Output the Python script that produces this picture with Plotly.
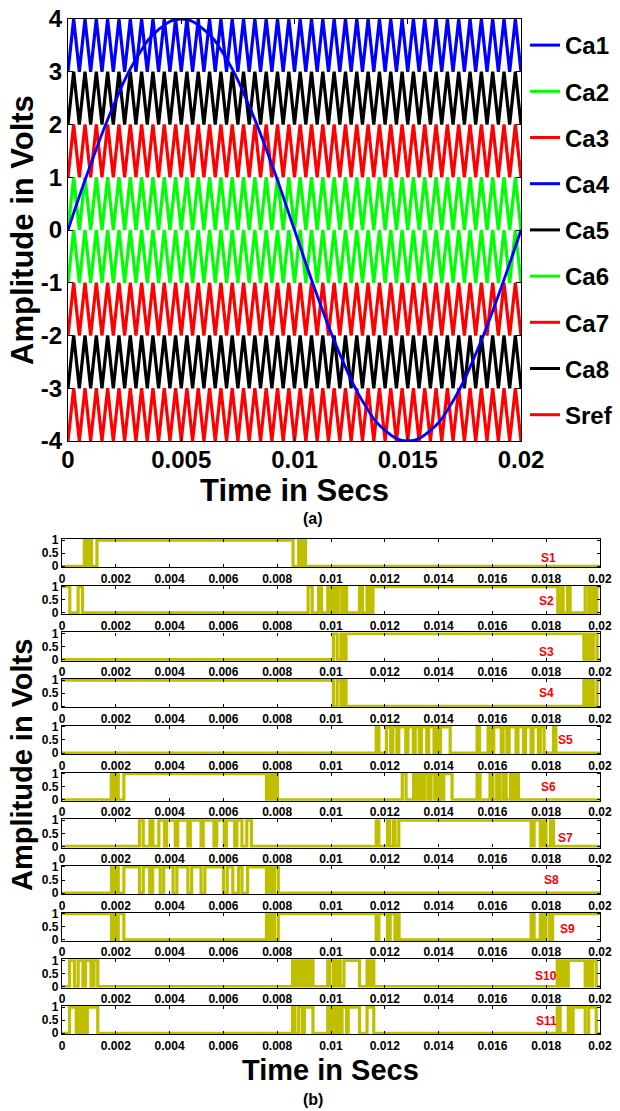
import plotly.graph_objects as go

W, H = 620, 1111
FONT = "Liberation Sans, Arial, sans-serif"

# ---------------- (a) carriers + reference ----------------
legend_names = ["Ca1", "Ca2", "Ca3", "Ca4", "Ca5", "Ca6", "Ca7", "Ca8", "Sref"]
legend_colors = ["#0000FF", "#00FF00", "#FF0000", "#0000FF", "#000000",
                 "#00FF00", "#FF0000", "#000000", "#FF0000"]

band_low = [3, 2, 1, 0, -1, -2, -3, -4]          # lower level of each carrier band
band_high = [4, 3, 2, 1, 0, -1, -2, -3]          # upper level of each carrier band
band_colors = ["#0000FF", "#000000", "#FF0000", "#00FF00",
               "#00FF00", "#FF0000", "#000000", "#FF0000"]
carrier_cycles = 40                              # triangles in 0..0.02 s
t_end = 0.02

sref_t = [0.000, 0.001, 0.002, 0.003, 0.004, 0.005, 0.006, 0.007, 0.008, 0.009, 0.010,
          0.011, 0.012, 0.013, 0.014, 0.015, 0.016, 0.017, 0.018, 0.019, 0.020]
sref_v = [0.0, 1.24, 2.35, 3.24, 3.80, 4.0, 3.80, 3.24, 2.35, 1.24, 0.0,
          -1.24, -2.35, -3.24, -3.80, -4.0, -3.80, -3.24, -2.35, -1.24, 0.0]

top_xticks = [0, 0.005, 0.01, 0.015, 0.02]
top_xticktext = ["0", "0.005", "0.01", "0.015", "0.02"]
top_yticks = [-4, -3, -2, -1, 0, 1, 2, 3, 4]
top_yticktext = ["-4", "-3", "-2", "-1", "0", "1", "2", "3", "4"]

# ---------------- (b) switching pulses ----------------
s_names = ["S1", "S2", "S3", "S4", "S5", "S6", "S7", "S8", "S9", "S10", "S11"]
s_start = [0, 1, 0, 1, 0, 0, 0, 0, 1, 0, 0]
s_edges = [
    [0.00083, 0.00093, 0.00100, 0.00110, 0.00130, 0.00859, 0.00880, 0.00886, 0.00893, 0.00905],
    [0.00029, 0.00060, 0.00076, 0.00915, 0.00930, 0.00954, 0.00965, 0.00988, 0.00998, 0.01009,
     0.01019, 0.01027, 0.01040, 0.01048, 0.01058, 0.01106, 0.01117, 0.01134, 0.01145, 0.01156,
     0.01843, 0.01855, 0.01863, 0.01879, 0.01889, 0.01945, 0.01958, 0.01968, 0.01979, 0.01988],
    [0.01009, 0.01023, 0.01037, 0.01046, 0.01056, 0.01940, 0.01951, 0.01963, 0.01975, 0.01989],
    [0.01009, 0.01023, 0.01037, 0.01046, 0.01056, 0.01940, 0.01951, 0.01963, 0.01975, 0.01989],
    [0.01168, 0.01178, 0.01206, 0.01222, 0.01230, 0.01245, 0.01252, 0.01278, 0.01286, 0.01306,
     0.01313, 0.01328, 0.01336, 0.01356, 0.01363, 0.01383, 0.01390, 0.01400, 0.01407, 0.01443,
     0.01543, 0.01552, 0.01584, 0.01594, 0.01605, 0.01633, 0.01640, 0.01654, 0.01662, 0.01688,
     0.01695, 0.01716, 0.01723, 0.01744, 0.01751, 0.01771, 0.01778, 0.01792, 0.01827, 0.01836],
    [0.00183, 0.00191, 0.00200, 0.00209, 0.00230, 0.00760, 0.00771, 0.00779, 0.00790, 0.00801,
     0.01265, 0.01279, 0.01307, 0.01317, 0.01328, 0.01339, 0.01349, 0.01362, 0.01372, 0.01386,
     0.01397, 0.01408, 0.01419, 0.01450,
     0.01543, 0.01554, 0.01591, 0.01602, 0.01616, 0.01627, 0.01640, 0.01651, 0.01667, 0.01677,
     0.01688, 0.01697],
    [0.00288, 0.00302, 0.00327, 0.00338, 0.00360, 0.00381, 0.00389, 0.00421, 0.00430, 0.00468,
     0.00477, 0.00517, 0.00525, 0.00565, 0.00575, 0.00603, 0.00611, 0.00642, 0.00650, 0.00669,
     0.00687, 0.00704,
     0.01168, 0.01178, 0.01210, 0.01217, 0.01231, 0.01238, 0.01252,
     0.01744, 0.01755, 0.01778, 0.01788, 0.01799, 0.01816, 0.01827],
    [0.00184, 0.00193, 0.00201, 0.00209, 0.00230, 0.00288, 0.00302, 0.00326, 0.00337, 0.00365,
     0.00378, 0.00413, 0.00427, 0.00468, 0.00482, 0.00517, 0.00531, 0.00600, 0.00614, 0.00635,
     0.00656, 0.00669, 0.00690, 0.00760, 0.00769, 0.00779, 0.00790, 0.00804],
    [0.00184, 0.00193, 0.00201, 0.00209, 0.00230, 0.00760, 0.00769, 0.00779, 0.00790, 0.00804,
     0.01168, 0.01178, 0.01210, 0.01220, 0.01238, 0.01245, 0.01253,
     0.01744, 0.01755, 0.01778, 0.01788, 0.01799, 0.01813, 0.01824],
    [0.00028, 0.00046, 0.00060, 0.00078, 0.00087, 0.00108, 0.00119, 0.00133,
     0.00857, 0.00868, 0.00880, 0.00891, 0.00901, 0.00912, 0.00923, 0.00933, 0.00988, 0.00995,
     0.01009, 0.01019, 0.01027, 0.01034, 0.01048, 0.01106, 0.01134, 0.01141, 0.01148, 0.01159,
     0.01841, 0.01852, 0.01860, 0.01870, 0.01882, 0.01945, 0.01954, 0.01963, 0.01972, 0.01986],
    [0.00028, 0.00053, 0.00060, 0.00072, 0.00081, 0.00087, 0.00094, 0.00133,
     0.00857, 0.00866, 0.00880, 0.00894, 0.00901, 0.00933, 0.00988, 0.00998, 0.01009, 0.01016,
     0.01023, 0.01030, 0.01041, 0.01058, 0.01064, 0.01106, 0.01134, 0.01159,
     0.01841, 0.01852, 0.01882, 0.01893, 0.01900, 0.01945, 0.01958, 0.01986],
]
s_label_x = [0.0181, 0.0180, 0.0180, 0.0180, 0.0187, 0.0181, 0.0187, 0.0182, 0.0188, 0.0180, 0.0180]
s_label_y = [0.32, 0.44, 0.31, 0.50, 0.49, 0.50, 0.33, 0.49, 0.43, 0.40, 0.45]

bot_xticks = [0, 0.002, 0.004, 0.006, 0.008, 0.01, 0.012, 0.014, 0.016, 0.018, 0.02]
bot_xticktext = ["0", "0.002", "0.004", "0.006", "0.008", "0.01", "0.012", "0.014",
                 "0.016", "0.018", "0.02"]
bot_yticks = [0, 0.5, 1]
bot_yticktext = ["0", "0.5", "1"]

PULSE_COLOR = "#BFBF00"

# ---------------- figure ----------------
fig = go.Figure()


def py(p):
    return 1 - p / H


# carriers
half = t_end / (2 * carrier_cycles)
for lo, hi, col in zip(band_low, band_high, band_colors):
    xs, ys = [], []
    for k in range(2 * carrier_cycles + 1):
        xs.append(k * half)
        ys.append(lo if k % 2 == 0 else hi)
    fig.add_trace(go.Scatter(x=xs, y=ys, mode="lines", line=dict(color=col, width=3.2),
                             showlegend=False, hoverinfo="skip", xaxis="x", yaxis="y"))

# reference sine
fig.add_trace(go.Scatter(x=sref_t, y=sref_v, mode="lines",
                         line=dict(color="#0000FF", width=2.8, shape="spline", smoothing=1.3),
                         showlegend=False, xaxis="x", yaxis="y"))

# legend entries
for n, c in zip(legend_names, legend_colors):
    fig.add_trace(go.Scatter(x=[None], y=[None], mode="lines", name=n, legendgroup=n,
                             line=dict(color=c, width=3), xaxis="x", yaxis="y"))

axis_common = dict(showline=True, linecolor="black", linewidth=1.2, mirror="ticks",
                   ticks="inside", tickcolor="black", showgrid=False, zeroline=False,
                   automargin=False)

layout = dict(
    width=W, height=H, margin=dict(l=0, r=0, t=0, b=0, autoexpand=False),
    paper_bgcolor="white", plot_bgcolor="white",
    font=dict(family=FONT, color="black"),
    showlegend=True,
    legend=dict(x=525 / W, xanchor="left", y=py(23), yanchor="top",
                font=dict(family=FONT, size=24, color="black", weight="bold"),
                bgcolor="rgba(0,0,0,0)", tracegroupgap=12, traceorder="grouped",
                itemwidth=30),
    xaxis=dict(domain=[68 / W, 521 / W], range=[0, t_end], anchor="y",
               tickvals=top_xticks, ticktext=top_xticktext, ticklen=5, ticklabelstandoff=-3,
               tickfont=dict(family=FONT, size=24, weight="bold"), **axis_common),
    yaxis=dict(domain=[py(441), py(19)], range=[-4, 4], anchor="x",
               tickvals=top_yticks, ticktext=top_yticktext, ticklen=5,
               tickfont=dict(family=FONT, size=24, weight="bold"), **axis_common),
)

annotations = []


def title_ann(text, xp, yp, size, angle=0):
    return dict(text=text, x=xp / W, y=py(yp), xref="paper", yref="paper",
                xanchor="center", yanchor="middle", showarrow=False, textangle=angle,
                font=dict(family=FONT, size=size, weight="bold"))


annotations.append(title_ann("Amplitude in Volts", 22, 230, 31, -90))
annotations.append(title_ann("Time in Secs", 294, 490, 31))
annotations.append(title_ann("(a)", 313, 518, 16))

pitch = 46.7
ph = 28.3
for i, (nm, st, ed) in enumerate(zip(s_names, s_start, s_edges)):
    k = i + 2
    top = 539 + i * pitch
    bot = top + ph
    xs, ys = [0], [st]
    lvl = st
    for e in ed:
        lvl = 1 - lvl
        xs.append(e)
        ys.append(lvl)
    xs.append(t_end)
    ys.append(lvl)
    fig.add_trace(go.Scatter(x=xs, y=ys, mode="lines",
                             line=dict(color=PULSE_COLOR, width=3.2, shape="hv"),
                             showlegend=False, xaxis=f"x{k}", yaxis=f"y{k}"))
    layout[f"xaxis{k}"] = dict(domain=[62 / W, 600 / W], range=[0, t_end], anchor=f"y{k}",
                               tickvals=bot_xticks, ticktext=bot_xticktext, ticklen=3,
                               tickfont=dict(family=FONT, size=12, weight="bold"), **axis_common)
    layout[f"yaxis{k}"] = dict(domain=[py(bot), py(top)], range=[-0.04, 1.04], anchor=f"x{k}",
                               tickvals=bot_yticks, ticktext=bot_yticktext, ticklen=3,
                               tickfont=dict(family=FONT, size=12, weight="bold"), **axis_common)
    annotations.append(dict(text=nm, x=s_label_x[i], y=s_label_y[i], xref=f"x{k}", yref=f"y{k}",
                            xanchor="center", yanchor="middle", showarrow=False,
                            font=dict(family=FONT, size=12, color="#FF0000", weight="bold")))

annotations.append(title_ann("Amplitude in Volts", 22, 765, 29, -90))
annotations.append(title_ann("Time in Secs", 330, 1070, 29))
annotations.append(title_ann("(b)", 313, 1099, 16))

layout["annotations"] = annotations
fig.update_layout(**layout)
fig.write_html("out.html")
